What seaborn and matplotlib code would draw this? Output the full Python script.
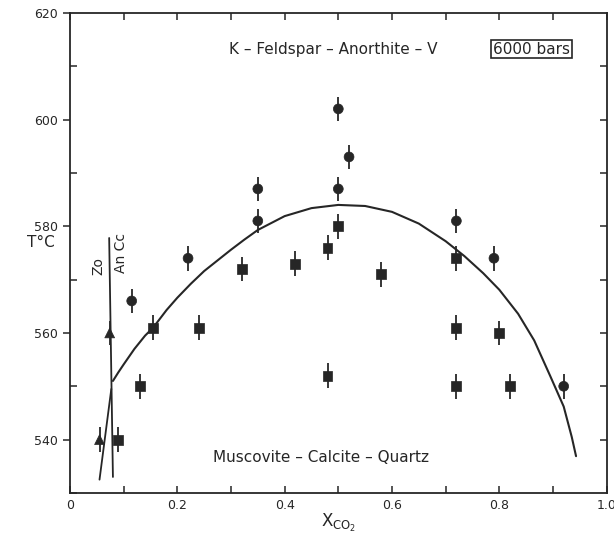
import numpy as np
import pandas as pd
import seaborn as sns
from matplotlib import pyplot as plt

# experimental brackets (x_CO2, T in deg C)
circle_x = [0.115, 0.22, 0.35, 0.35, 0.50, 0.50, 0.52, 0.72, 0.79, 0.92]
circle_t = [566, 574, 581, 587, 587, 602, 593, 581, 574, 550]
square_x = [0.09, 0.13, 0.155, 0.24, 0.32, 0.42, 0.48, 0.48, 0.50, 0.58, 0.72, 0.72, 0.72, 0.80, 0.82]
square_t = [540, 550, 561, 561, 572, 573, 576, 552, 580, 571, 574, 561, 550, 560, 550]
triangle_x = [0.055, 0.074]
triangle_t = [540, 560]

# reaction curve
curve_x = [0.080, 0.090, 0.100, 0.120, 0.140, 0.155, 0.180, 0.200, 0.225, 0.250, 0.275,
           0.300, 0.325, 0.350, 0.400, 0.450, 0.500, 0.550, 0.600, 0.650, 0.700,
           0.735, 0.770, 0.800, 0.835, 0.865, 0.895, 0.920, 0.935, 0.943]
curve_t = [551.0, 552.6, 554.1, 557.0, 559.5, 561.0, 564.3, 566.6, 569.2, 571.6, 573.6,
           575.6, 577.5, 579.3, 581.9, 583.4, 584.0, 583.8, 582.7, 580.5, 577.2,
           574.4, 571.2, 568.1, 563.6, 558.6, 551.9, 546.2, 540.5, 536.9]

# Zo = An + Cc line and the short slanted branch
zo_x = [0.073, 0.080]
zo_t = [577.8, 533.0]
branch_x = [0.055, 0.077]
branch_t = [532.5, 549.5]

err = 2.3
ink = '#262626'

sns.set_theme(style='white')
plt.rcParams['font.family'] = ['DejaVu Sans']

fig = plt.figure(figsize=(6.14, 5.37), dpi=100)
ax = fig.add_axes([0.114, 0.082, 0.874, 0.894])

pts = pd.concat([
    pd.DataFrame({'x': circle_x, 't': circle_t, 'kind': 'circle'}),
    pd.DataFrame({'x': square_x, 't': square_t, 'kind': 'square'}),
    pd.DataFrame({'x': triangle_x, 't': triangle_t, 'kind': 'triangle'}),
], ignore_index=True)

ax.errorbar(pts['x'], pts['t'], yerr=err, fmt='none', ecolor=ink, elinewidth=1.3, capsize=0)
sns.scatterplot(data=pts, x='x', y='t', style='kind',
                markers={'circle': 'o', 'square': 's', 'triangle': '^'},
                color=ink, s=50, edgecolor=ink, linewidth=0.5, legend=False, ax=ax)

sns.lineplot(x=curve_x, y=curve_t, sort=False, estimator=None, color=ink, lw=1.5, ax=ax)
ax.plot(zo_x, zo_t, color=ink, lw=1.3)
ax.plot(branch_x, branch_t, color=ink, lw=1.3)

ax.text(0.052, 572.5, 'Zo', rotation=90, ha='center', va='center', fontsize=10, color=ink)
ax.text(0.095, 575.0, 'An Cc', rotation=90, ha='center', va='center', fontsize=10, color=ink)

ax.text(0.491, 613.2, 'K – Feldspar – Anorthite – V', ha='center', va='center', fontsize=11, color=ink)
ax.text(0.86, 613.2, '6000 bars', ha='center', va='center', fontsize=11, color=ink,
        bbox=dict(boxstyle='square,pad=0.12', fc='white', ec=ink, lw=1.2))
ax.text(0.467, 536.6, 'Muscovite – Calcite – Quartz', ha='center', va='center', fontsize=11, color=ink)

ax.set_xlim(0, 1.0)
ax.set_ylim(530, 620)
ax.set_xticks([0, 0.2, 0.4, 0.6, 0.8, 1.0])
ax.set_xticklabels(['0', '0.2', '0.4', '0.6', '0.8', '1.0'])
ax.set_xticks(np.arange(0.1, 1.0, 0.2), minor=True)
ax.set_yticks([540, 560, 580, 600, 620])
ax.set_yticks([530, 550, 570, 590, 610], minor=True)
ax.tick_params(axis='x', which='both', direction='in', top=True, bottom=True, length=5,
               width=1.1, color=ink, labelsize=9, labelcolor=ink, pad=4)
ax.tick_params(axis='y', which='major', direction='out', left=True, right=False, length=5,
               width=1.1, color=ink, labelsize=9, labelcolor=ink)
ax.tick_params(axis='y', which='minor', direction='in', left=True, right=False, length=5,
               width=1.1, color=ink)
ax2 = ax.secondary_yaxis('right')
ax2.set_yticks([540, 550, 560, 570, 580, 590, 600, 610])
ax2.tick_params(direction='in', length=5, width=1.1, color=ink, labelright=False)
ax2.spines['right'].set_visible(False)
for s in ax.spines.values():
    s.set_color(ink)
    s.set_linewidth(1.3)

ax.set_xlabel(r'$\mathregular{X_{CO_2}}$', fontsize=12, color=ink, labelpad=0)
ax.set_ylabel('')
ax.text(-0.055, 577, 'T°C', transform=ax.get_yaxis_transform(), ha='center', va='center',
        fontsize=11, color=ink)

fig.savefig('out.png', dpi=100)
